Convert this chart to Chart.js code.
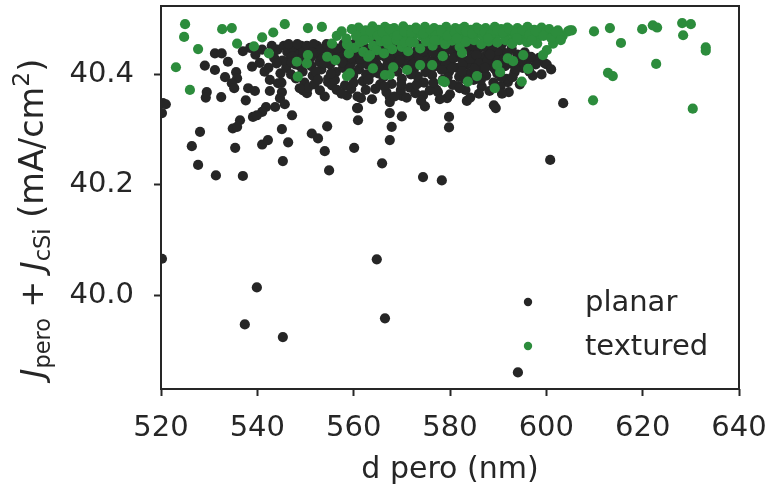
<!DOCTYPE html>
<html>
<head>
<meta charset="utf-8">
<script src="https://cdn.jsdelivr.net/npm/chart.js@4.4.1/dist/chart.umd.min.js"></script>
<style>
  html, body { margin: 0; padding: 0; background: #fff; }
  #wrap { width: 773px; height: 493px; }
</style>
</head>
<body>
<div id="wrap"><canvas id="scatter" width="773" height="493"></canvas></div>
<script>
// values
const seriesNames = ['planar', 'textured'];
const xTicks = [520, 540, 560, 580, 600, 620, 640];
const yTicks = [40.0, 40.2, 40.4];

const planarD = [
  520.2, 520.4, 521.0, 520.2, 531.2, 532.6, 533.9, 529.1, 531.2, 533.3, 535.6, 535.8, 534.7, 535.2,
  529.5, 529.3, 532.5, 538.1, 539.5, 537.6, 538.9, 542.6, 542.6, 544.3, 545.1, 544.7, 543.7, 545.7,
  541.8, 541.0, 539.1, 539.9, 536.4, 534.9, 535.8, 528.1, 526.4, 527.7, 535.4, 537.0, 541.0, 542.2,
  545.1, 546.4, 545.3, 547.2, 551.3, 552.6, 554.5, 554.0, 554.9, 560.1, 560.7, 558.6, 549.5, 550.3,
  554.7, 561.5, 560.9, 560.9, 565.9, 567.5, 567.5, 567.5, 567.9, 567.5, 570.0, 570.0, 574.4, 574.8,
  577.5, 579.4, 579.8, 579.8, 581.7, 583.5, 589.1, 589.5, 592.0, 589.3, 588.3, 584.8, 599.7,
  531.4, 574.4, 578.3, 600.8, 603.5, 539.9, 537.4, 545.3, 564.8, 566.5, 594.1,
  538.5, 539.6, 540.5, 541.5, 542.3, 543.5, 544.2, 544.8,
  545.5, 546.2, 546.8, 547.5, 547.9, 548.6, 549.1, 549.4, 550.0, 550.6, 551.2, 551.5, 552.0, 552.4,
  552.9, 553.3, 553.8, 554.2, 554.7, 555.1, 555.6, 556.0, 556.3, 556.9, 557.4, 557.8, 558.2, 558.5,
  559.0, 559.4, 559.9, 560.3, 560.6, 561.1, 561.5, 561.9, 562.3, 562.8, 563.2, 563.6, 564.1, 564.5,
  564.9, 565.3, 565.8, 566.2, 566.6, 567.0, 567.4, 567.9, 568.3, 568.7, 569.1, 569.5, 570.0, 570.4,
  570.8, 571.2, 571.7, 572.1, 572.5, 572.9, 573.3, 573.8, 574.2, 574.6, 575.0, 575.5, 575.9, 576.3,
  576.8, 577.2, 577.6, 578.0, 578.5, 578.9, 579.3, 579.8, 580.2, 580.6, 581.0, 581.5, 581.9, 582.3,
  582.8, 583.2, 583.6, 584.0, 584.5, 584.9, 585.3, 585.8, 586.2, 586.6, 587.1, 587.5, 588.0, 588.5,
  589.0, 589.6, 590.2, 591.0, 591.7, 592.5, 593.4, 594.0, 595.1, 596.0, 597.2, 598.5, 600.1, 601.0,
  546.0, 547.0, 548.0, 549.8, 550.5, 551.8, 553.0, 554.0, 555.5, 556.5, 557.5, 559.5, 560.8, 562.5,
  563.8, 565.5, 566.8, 568.5, 569.8, 571.0, 572.8, 574.0, 575.8, 577.9, 580.0, 582.0, 584.2, 586.0,
  588.2, 590.5, 592.2, 594.5, 589.9, 588.8, 590.8, 592.8, 595.5,
  545.2, 546.5, 547.3, 548.3, 548.9, 549.6, 550.3, 551.0, 551.7, 552.2, 553.1, 553.6, 554.4, 555.0,
  555.9, 556.6, 557.1, 557.9, 558.8, 559.6, 560.1, 560.9, 561.7, 562.1, 562.6, 563.4, 564.3, 564.7,
  565.6, 566.0, 566.9, 567.6, 568.1, 568.9, 569.3, 570.2, 570.6, 571.4, 572.3, 573.0, 573.6, 574.4,
  575.2, 575.7, 576.5, 577.0, 577.8, 578.7, 579.1, 580.0, 580.8, 581.3, 582.1, 582.6, 583.4, 584.2,
  584.7, 585.5, 586.0, 586.9, 587.8, 588.3, 589.3, 590.0, 590.6, 591.4, 592.0, 593.0, 593.8, 594.8,
  596.5, 597.8, 599.0, 545.0, 548.8, 552.6, 556.1, 560.0, 563.1, 566.4, 569.9, 573.1, 576.6, 579.5,
  583.0, 586.4, 590.8, 537.0, 541.0, 543.0, 544.0,
  547.1, 549.2, 551.4, 553.9, 555.3, 557.6, 559.2, 561.4, 563.9, 565.1, 567.2, 569.6, 571.9, 574.9,
  576.1, 578.3, 580.4, 582.5, 585.1, 587.3, 589.8, 591.2, 593.6, 596.8
];
const planarJ = [
  40.066, 40.348, 40.346, 40.330, 40.438, 40.438, 40.423, 40.416, 40.408, 40.395, 40.404, 40.393, 40.384, 40.375,
  40.368, 40.358, 40.359, 40.375, 40.370, 40.353, 40.414, 40.390, 40.370, 40.384, 40.368, 40.357, 40.341, 40.346,
  40.341, 40.332, 40.323, 40.326, 40.317, 40.302, 40.305, 40.296, 40.270, 40.236, 40.267, 40.216, 40.273, 40.281,
  40.301, 40.277, 40.243, 40.326, 40.293, 40.284, 40.306, 40.261, 40.226, 40.267, 40.339, 40.362, 40.371, 40.366,
  40.386, 40.357, 40.339, 40.317, 40.239, 40.359, 40.350, 40.330, 40.305, 40.281, 40.361, 40.324, 40.362, 40.342,
  40.368, 40.357, 40.323, 40.304, 40.379, 40.352, 40.344, 40.339, 40.386, 40.438, 40.417, 40.435, 40.420,
  40.217, 40.214, 40.208, 40.245, 40.348, 40.014, 39.947, 39.924, 40.065, 39.958, 39.860,
  40.448, 40.436, 40.421, 40.405, 40.412, 40.430, 40.445, 40.402,
  40.452, 40.441, 40.430, 40.447, 40.418, 40.436, 40.452, 40.405, 40.428, 40.444, 40.415, 40.398, 40.437, 40.452,
  40.423, 40.409, 40.446, 40.431, 40.392, 40.418, 40.452, 40.437, 40.404, 40.425, 40.444, 40.412, 40.380, 40.432,
  40.452, 40.419, 40.398, 40.441, 40.427, 40.409, 40.452, 40.388, 40.434, 40.418, 40.446, 40.402, 40.428, 40.374,
  40.440, 40.413, 40.452, 40.395, 40.431, 40.418, 40.446, 40.383, 40.425, 40.440, 40.405, 40.452, 40.392, 40.432,
  40.416, 40.445, 40.376, 40.427, 40.409, 40.440, 40.396, 40.452, 40.420, 40.385, 40.436, 40.412, 40.446, 40.399,
  40.428, 40.372, 40.441, 40.417, 40.390, 40.432, 40.450, 40.405, 40.425, 40.381, 40.440, 40.412, 40.396, 40.430,
  40.446, 40.372, 40.418, 40.402, 40.437, 40.390, 40.425, 40.445, 40.410, 40.378, 40.432, 40.398, 40.440, 40.416,
  40.385, 40.428, 40.405, 40.440, 40.392, 40.420, 40.404, 40.436, 40.412, 40.425, 40.398, 40.430, 40.418, 40.409,
  40.412, 40.400, 40.393, 40.385, 40.376, 40.382, 40.371, 40.360, 40.380, 40.372, 40.365, 40.374, 40.360, 40.372,
  40.355, 40.382, 40.368, 40.360, 40.372, 40.358, 40.366, 40.352, 40.371, 40.355, 40.364, 40.375, 40.358, 40.365,
  40.370, 40.378, 40.368, 40.382, 40.440, 40.450, 40.455, 40.447, 40.440,
  40.425, 40.455, 40.432, 40.455, 40.415, 40.440, 40.452, 40.430, 40.455, 40.405, 40.445, 40.430, 40.455, 40.440,
  40.425, 40.447, 40.430, 40.455, 40.442, 40.430, 40.455, 40.440, 40.420, 40.452, 40.400, 40.437, 40.455, 40.420,
  40.435, 40.445, 40.405, 40.430, 40.455, 40.418, 40.438, 40.422, 40.455, 40.435, 40.418, 40.455, 40.430, 40.442,
  40.424, 40.455, 40.440, 40.415, 40.455, 40.440, 40.420, 40.445, 40.430, 40.452, 40.438, 40.418, 40.448, 40.428,
  40.452, 40.435, 40.420, 40.450, 40.425, 40.436, 40.410, 40.425, 40.395, 40.415, 40.438, 40.395, 40.420, 40.425,
  40.405, 40.418, 40.400, 40.385, 40.375, 40.390, 40.390, 40.385, 40.390, 40.378, 40.382, 40.382, 40.385, 40.395,
  40.392, 40.390, 40.365, 40.442, 40.445, 40.452, 40.420,
  40.422, 40.428, 40.440, 40.420, 40.402, 40.422, 40.410, 40.428, 40.418, 40.402, 40.410, 40.426, 40.400, 40.404,
  40.422, 40.408, 40.412, 40.406, 40.410, 40.412, 40.402, 40.428, 40.410, 40.432
];

const texturedD = [
  561.0, 561.8, 562.5, 563.2, 563.9, 564.6, 565.2, 565.9, 566.5, 567.2, 567.8, 568.4, 569.1, 569.7,
  570.3, 571.0, 571.6, 572.2, 572.9, 573.5, 574.1, 574.8, 575.4, 576.0, 576.7, 577.3, 577.9, 578.6,
  579.2, 579.8, 580.5, 581.1, 581.7, 582.4, 583.0, 583.6, 584.3, 584.9, 585.5, 586.2, 586.8, 587.4,
  588.1, 588.7, 589.3, 590.0, 590.6, 591.3, 591.9, 592.6, 593.3, 594.0, 594.7, 595.4, 596.1, 596.8,
  597.5, 598.3, 599.0, 599.8, 600.6, 601.5, 602.4, 603.4, 604.5, 605.3,
  559.6, 558.6, 560.2, 561.3, 562.0, 563.0, 564.0, 564.8, 565.6, 566.3, 567.1, 568.0, 568.9, 570.0,
  571.3, 572.5, 573.8, 575.0, 576.4, 577.5, 579.0, 580.4, 582.0, 583.3, 585.0, 586.5, 588.0, 589.8,
  591.5, 592.9, 594.4, 596.0, 598.1, 600.1, 601.4, 602.8, 604.9, 599.3, 595.2,
  564.0, 567.5, 568.2, 571.1, 573.8, 576.3, 578.5, 578.5, 582.5, 583.7, 585.6, 589.3, 589.8, 590.4,
  592.0, 593.1, 594.9, 596.2, 592.9, 558.6, 559.2, 559.0, 558.8, 555.5, 554.5, 553.4, 550.5, 550.5,
  550.3, 548.2, 548.4, 545.7, 543.3, 542.4, 541.0, 539.3, 535.8, 534.7, 532.7, 527.7, 526.0, 525.0,
  524.8, 523.1, 556.2, 563.4, 566.5, 570.6, 578.9,
  609.9, 613.2, 615.5, 619.9, 622.1, 623.0, 622.8, 612.8, 613.8, 609.7, 628.2, 630.0, 628.4, 633.1,
  633.1, 630.4,
  556.5, 557.5, 558.5, 560.5, 562.2, 563.5, 565.0, 566.0, 567.5, 569.0, 570.5, 572.0, 573.2, 574.5,
  576.0, 577.0, 578.2, 579.5, 581.0, 582.2, 583.3, 584.6, 586.0, 587.2, 588.4, 589.8, 591.0, 592.3,
  593.6, 595.0, 596.5, 597.8, 599.4, 601.0, 602.0, 603.0, 566.8, 571.8, 576.8, 581.4, 587.9, 593.9,
  597.0
];
const texturedJ = [
  40.485, 40.472, 40.480, 40.466, 40.487, 40.474, 40.481, 40.468, 40.486, 40.476, 40.470, 40.484, 40.478, 40.466,
  40.487, 40.473, 40.481, 40.468, 40.485, 40.477, 40.470, 40.486, 40.479, 40.467, 40.484, 40.474, 40.481, 40.469,
  40.486, 40.476, 40.470, 40.484, 40.478, 40.466, 40.486, 40.473, 40.481, 40.468, 40.485, 40.477, 40.470, 40.484,
  40.479, 40.467, 40.486, 40.474, 40.482, 40.470, 40.485, 40.477, 40.467, 40.484, 40.478, 40.470, 40.486, 40.475,
  40.481, 40.468, 40.485, 40.476, 40.482, 40.472, 40.480, 40.470, 40.478, 40.480,
  40.482, 40.455, 40.448, 40.458, 40.441, 40.432, 40.452, 40.444, 40.460, 40.438, 40.455, 40.446, 40.462, 40.450,
  40.442, 40.458, 40.447, 40.460, 40.452, 40.462, 40.455, 40.461, 40.450, 40.459, 40.462, 40.455, 40.460, 40.458,
  40.462, 40.456, 40.462, 40.458, 40.456, 40.444, 40.456, 40.469, 40.480, 40.435, 40.435,
  40.411, 40.399, 40.413, 40.408, 40.417, 40.417, 40.433, 40.388, 40.439, 40.387, 40.397, 40.375, 40.417, 40.404,
  40.429, 40.424, 40.387, 40.410, 40.456, 40.397, 40.402, 40.438, 40.453, 40.456, 40.432, 40.486, 40.484, 40.435,
  40.420, 40.423, 40.396, 40.491, 40.476, 40.438, 40.467, 40.451, 40.456, 40.484, 40.482, 40.446, 40.372, 40.491,
  40.468, 40.413, 40.426, 40.435, 40.399, 40.458, 40.386,
  40.478, 40.484, 40.457, 40.482, 40.489, 40.485, 40.419, 40.403, 40.397, 40.353, 40.493, 40.491, 40.471, 40.449,
  40.443, 40.338,
  40.470, 40.478, 40.465, 40.470, 40.462, 40.478, 40.470, 40.476, 40.482, 40.470, 40.478, 40.476, 40.482, 40.474,
  40.480, 40.470, 40.478, 40.470, 40.476, 40.482, 40.478, 40.474, 40.482, 40.476, 40.472, 40.480, 40.476, 40.482,
  40.474, 40.480, 40.472, 40.478, 40.470, 40.466, 40.476, 40.462, 40.462, 40.458, 40.462, 40.465, 40.465, 40.466,
  40.462
];

const planarColor = '#262626';
const texturedColor = '#2c8c3c';
const ink = '#262626';
const FONT = "'DejaVu Sans', sans-serif";

Chart.defaults.font.family = FONT;
Chart.defaults.color = ink;

function toPoints(xs, ys) {
  return xs.map((x, i) => ({ x: x, y: ys[i] }));
}

// spines on all four sides
const frame = {
  id: 'frame',
  afterDraw(chart) {
    const { ctx, chartArea: a } = chart;
    ctx.save();
    ctx.strokeStyle = ink;
    ctx.lineWidth = 2;
    ctx.strokeRect(a.left, a.top, a.right - a.left, a.bottom - a.top);
    ctx.restore();
  }
};

// legend in lower right, no box
const cornerLegend = {
  id: 'cornerLegend',
  afterDraw(chart) {
    const { ctx } = chart;
    const rows = [[seriesNames[0], planarColor, 302], [seriesNames[1], texturedColor, 346]];
    ctx.save();
    ctx.font = '29px ' + FONT;
    ctx.textBaseline = 'middle';
    rows.forEach(([name, col, y]) => {
      ctx.fillStyle = col;
      ctx.beginPath();
      ctx.arc(528, y, 4.2, 0, Math.PI * 2);
      ctx.fill();
      ctx.fillStyle = ink;
      ctx.fillText(name, 585, y + 1);
    });
    ctx.restore();
  }
};

// y title with italic J and subscripts, read bottom to top
const yTitle = {
  id: 'yTitle',
  afterDraw(chart) {
    const { ctx } = chart;
    const big = 32, small = 22.5, unit = 33.5;
    const parts = [
      { t: 'J', f: 'italic ' + big + 'px ' + FONT, dy: 0 },
      { t: 'pero', f: small + 'px ' + FONT, dy: 7 },
      { t: ' + ', f: big + 'px ' + FONT, dy: 0 },
      { t: 'J', f: 'italic ' + big + 'px ' + FONT, dy: 0 },
      { t: 'cSi', f: small + 'px ' + FONT, dy: 7 },
      { t: ' (mA/cm', f: unit + 'px ' + FONT, dy: 0 },
      { t: '2', f: (small + 1) + 'px ' + FONT, dy: -14 },
      { t: ')', f: unit + 'px ' + FONT, dy: 0 }
    ];
    ctx.save();
    ctx.translate(43, 378);
    ctx.rotate(-Math.PI / 2);
    ctx.fillStyle = ink;
    ctx.textBaseline = 'alphabetic';
    let x = 0;
    parts.forEach(p => {
      ctx.font = p.f;
      ctx.fillText(p.t, x, p.dy);
      x += ctx.measureText(p.t).width;
    });
    ctx.restore();
  }
};

new Chart(document.getElementById('scatter').getContext('2d'), {
  type: 'scatter',
  data: {
    datasets: [
      {
        label: seriesNames[0],
        data: toPoints(planarD, planarJ),
        backgroundColor: planarColor,
        borderWidth: 0,
        pointRadius: 5.1,
        clip: 0,
        order: 2
      },
      {
        label: seriesNames[1],
        data: toPoints(texturedD, texturedJ),
        backgroundColor: texturedColor,
        borderWidth: 0,
        pointRadius: 5.1,
        clip: 0,
        order: 1
      }
    ]
  },
  options: {
    responsive: false,
    animation: false,
    events: [],
    layout: { padding: { left: 0, top: 6, right: 34, bottom: 0 } },
    plugins: { legend: { display: false }, tooltip: { enabled: false } },
    scales: {
      x: {
        type: 'linear',
        min: 520,
        max: 640,
        afterBuildTicks: s => { s.ticks = xTicks.map(v => ({ value: v })); },
        afterFit: s => { s.height = 104; s.paddingLeft = 0; s.paddingRight = 0; },
        border: { display: false },
        grid: { drawOnChartArea: false, drawTicks: true, tickLength: 7, tickWidth: 2, tickColor: ink },
        ticks: { font: { size: 29 }, color: ink, padding: 15, maxRotation: 0, callback: v => String(v) },
        title: { display: true, text: 'd pero (nm)', font: { size: 30 }, color: ink, padding: { top: 0, bottom: 5 } }
      },
      y: {
        type: 'linear',
        min: 39.830,
        max: 40.524,
        afterBuildTicks: s => { s.ticks = yTicks.map(v => ({ value: v })); },
        afterFit: s => { s.width = 161; s.paddingTop = 0; s.paddingBottom = 0; },
        border: { display: false },
        grid: { drawOnChartArea: false, drawTicks: true, tickLength: 7, tickWidth: 2, tickColor: ink },
        ticks: { font: { size: 29 }, color: ink, padding: 20, callback: v => v.toFixed(1) }
      }
    }
  },
  plugins: [frame, cornerLegend, yTitle]
});
</script>
</body>
</html>
